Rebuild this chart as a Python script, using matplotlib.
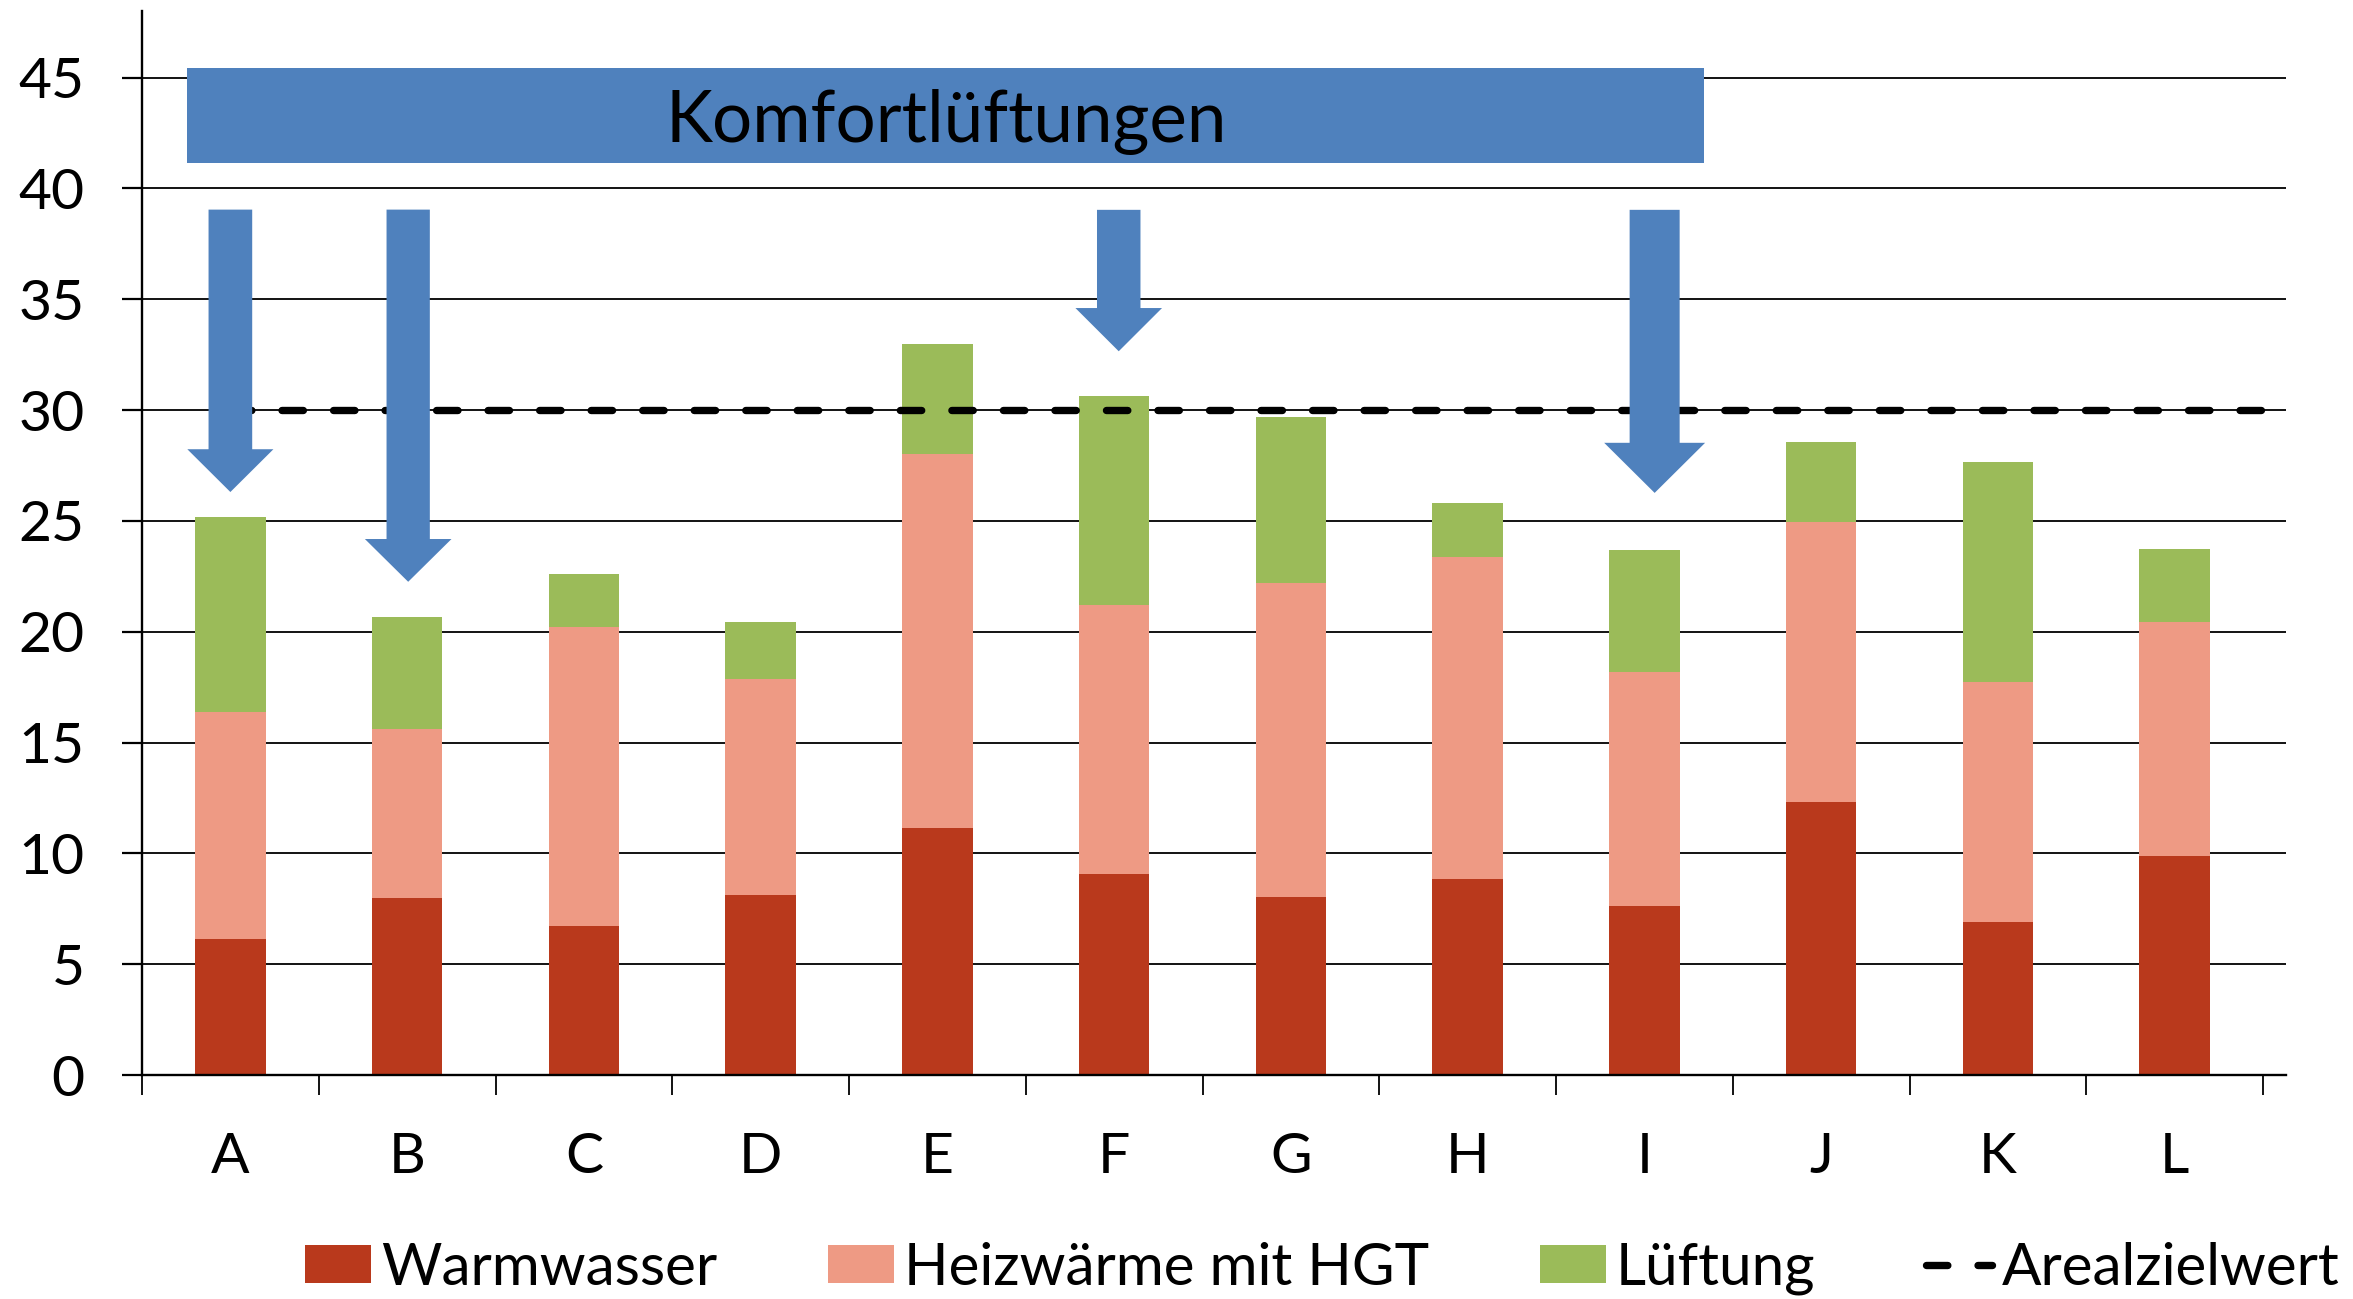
import matplotlib
matplotlib.use("Agg")
import matplotlib.pyplot as plt
from matplotlib.patches import FancyArrow, Rectangle, Patch
from matplotlib.lines import Line2D
import numpy as np

plt.rcParams["font.family"] = ["Lato", "DejaVu Sans"]

# ---- data ----
categories = ["A", "B", "C", "D", "E", "F", "G", "H", "I", "J", "K", "L"]
warmwasser = [6.15, 7.98, 6.70, 8.12, 11.16, 9.06, 8.05, 8.83, 7.62, 12.31, 6.90, 9.88]
heizwaerme = [10.22, 7.65, 13.53, 9.74, 16.84, 12.14, 14.15, 14.54, 10.56, 12.64, 10.83, 10.55]
lueftung = [8.80, 5.01, 2.37, 2.57, 5.00, 9.42, 7.50, 2.43, 5.51, 3.61, 9.94, 3.32]
arealzielwert = 30
series_names = ["Warmwasser", "Heizwärme mit HGT", "Lüftung", "Arealzielwert"]
yticks = [0, 5, 10, 15, 20, 25, 30, 35, 40, 45]

banner_text = "Komfortlüftungen"
# arrows: category position, top, tip
arrow_x = [0.0, 1.006, 5.026, 8.058]
arrow_top = [39.04, 39.04, 39.03, 39.03]
arrow_tip = [26.30, 22.25, 32.65, 26.26]
arrow_head_len = [1.93, 1.93, 1.95, 2.26]
arrow_shaft_w = [0.247, 0.245, 0.246, 0.283]
arrow_head_w = [0.487, 0.49, 0.49, 0.571]

# ---- style ----
c_warm = "#B9391C"
c_heiz = "#EE9A84"
c_lueft = "#9BBB59"
c_blue = "#4F81BD"

W, H = 2353, 1299
fig = plt.figure(figsize=(W / 100, H / 100), dpi=100)
ax = fig.add_axes([142 / W, (H - 1075) / H, (2286 - 142) / W, (1075 - 11) / H])

x = np.arange(len(categories))
bw = 0.4
b1 = ax.bar(x, warmwasser, bw, color=c_warm, zorder=2)
b2 = ax.bar(x, heizwaerme, bw, bottom=warmwasser, color=c_heiz, zorder=2)
bottom3 = np.array(warmwasser) + np.array(heizwaerme)
b3 = ax.bar(x, lueftung, bw, bottom=bottom3, color=c_lueft, zorder=2)

xmax = 11.63
ax.set_xlim(-0.5, xmax)
ax.set_ylim(0, 48)

lw_line = 5.3
dash = (0, (2.9, 4.1))
ax.hlines(arealzielwert, 0, xmax, colors="black", linewidth=lw_line,
          linestyles=[dash], zorder=3, capstyle="round")

# banner
ax.add_patch(Rectangle((-0.245, 41.16), 8.337 + 0.245, 45.44 - 41.16,
                       facecolor=c_blue, edgecolor="none", zorder=4))
ax.text(4.05, 42.1, banner_text, ha="center", va="baseline", fontsize=51,
        color="black", zorder=5)

for xa, yt, ytip, hl, sw, hw in zip(arrow_x, arrow_top, arrow_tip,
                                     arrow_head_len, arrow_shaft_w, arrow_head_w):
    ax.add_patch(FancyArrow(xa, yt, 0, ytip - yt, width=sw, head_width=hw,
                            head_length=hl, length_includes_head=True,
                            facecolor=c_blue, edgecolor="none", zorder=4))

# axes styling
ax.set_axisbelow(True)
ax.yaxis.grid(True, color="black", linewidth=1.3)
ax.xaxis.grid(False)
for s in ["top", "right"]:
    ax.spines[s].set_visible(False)
ax.spines["left"].set_linewidth(1.7)
ax.spines["bottom"].set_linewidth(1.7)

ax.set_yticks(yticks)
ax.set_yticklabels([str(v) for v in yticks])
ax.tick_params(axis="y", direction="out", length=14.4, width=1.6,
               labelsize=41, pad=27)
ax.set_xticks(x)
ax.set_xticklabels(categories)
ax.set_xticks(np.arange(-0.5, len(categories), 1.0), minor=True)
ax.tick_params(axis="x", which="major", length=0, labelsize=41, pad=41)
ax.tick_params(axis="x", which="minor", direction="out", length=14.4, width=1.3)

handles = [Patch(facecolor=c_warm), Patch(facecolor=c_heiz), Patch(facecolor=c_lueft),
           Line2D([0], [0], color="black", linewidth=lw_line, linestyle=dash,
                  dash_capstyle="round")]
fs = 42
fig.legend(handles, series_names, loc="center left", bbox_to_anchor=(305 / W, 0.0235),
           ncol=4, frameon=False, fontsize=fs, borderpad=0, borderaxespad=0,
           handlelength=1.13, handleheight=0.63, handletextpad=0.17,
           columnspacing=1.9)

fig.savefig("out.png", dpi=100)
